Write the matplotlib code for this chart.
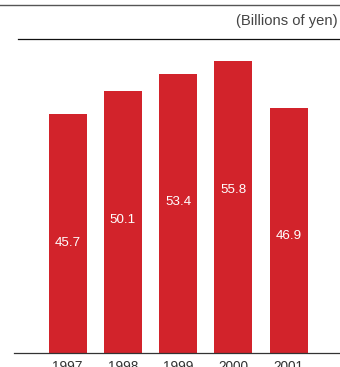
import matplotlib
matplotlib.use('Agg')
import matplotlib.pyplot as plt
from matplotlib.lines import Line2D

YEARS = ['1997', '1998', '1999', '2000', '2001']
VALUES = [45.7, 50.1, 53.4, 55.8, 46.9]
UNIT_LABEL = '(Billions of yen)'

BAR_RED = '#d2232b'

plt.rcParams['font.family'] = ['Liberation Sans', 'DejaVu Sans']

W, H = 340, 367
fig = plt.figure(figsize=(W / 100, H / 100), dpi=100)
ax = fig.add_axes([14 / W, (H - 353) / H, 1 - 14 / W, (353 - 39) / H])

x = list(range(len(YEARS)))
ax.bar(x, VALUES, width=0.69, color=BAR_RED, zorder=2)

# value labels sit a fixed distance below each bar top
for xi, v in zip(x, VALUES):
    ax.text(xi, v - 24.6, f'{v:.1f}', ha='center', va='center',
            color='white', fontsize=9.6, zorder=3)

ax.set_xlim(-0.97, 4.93)
ax.set_ylim(0, 60)
ax.set_xticks(x)
ax.set_xticklabels(YEARS, fontsize=9.8, color='#333333')
ax.tick_params(axis='x', length=0, pad=4.8)
ax.set_yticks([])
for side in ('top', 'right', 'left'):
    ax.spines[side].set_visible(False)
ax.spines['bottom'].set_color('#333333')
ax.spines['bottom'].set_linewidth(0.9)

# rule lines above the chart
fig.add_artist(Line2D([0, 1], [1 - 4.5 / H, 1 - 4.5 / H],
                      transform=fig.transFigure, color='#555555', lw=1.0))
fig.add_artist(Line2D([18 / W, 1], [1 - 39 / H, 1 - 39 / H],
                      transform=fig.transFigure, color='#111111', lw=0.9))

fig.text(338 / W, 1 - 21 / H, UNIT_LABEL, ha='right', va='center',
         fontsize=10.6, color='#444444')

fig.savefig('out.png', dpi=100)
